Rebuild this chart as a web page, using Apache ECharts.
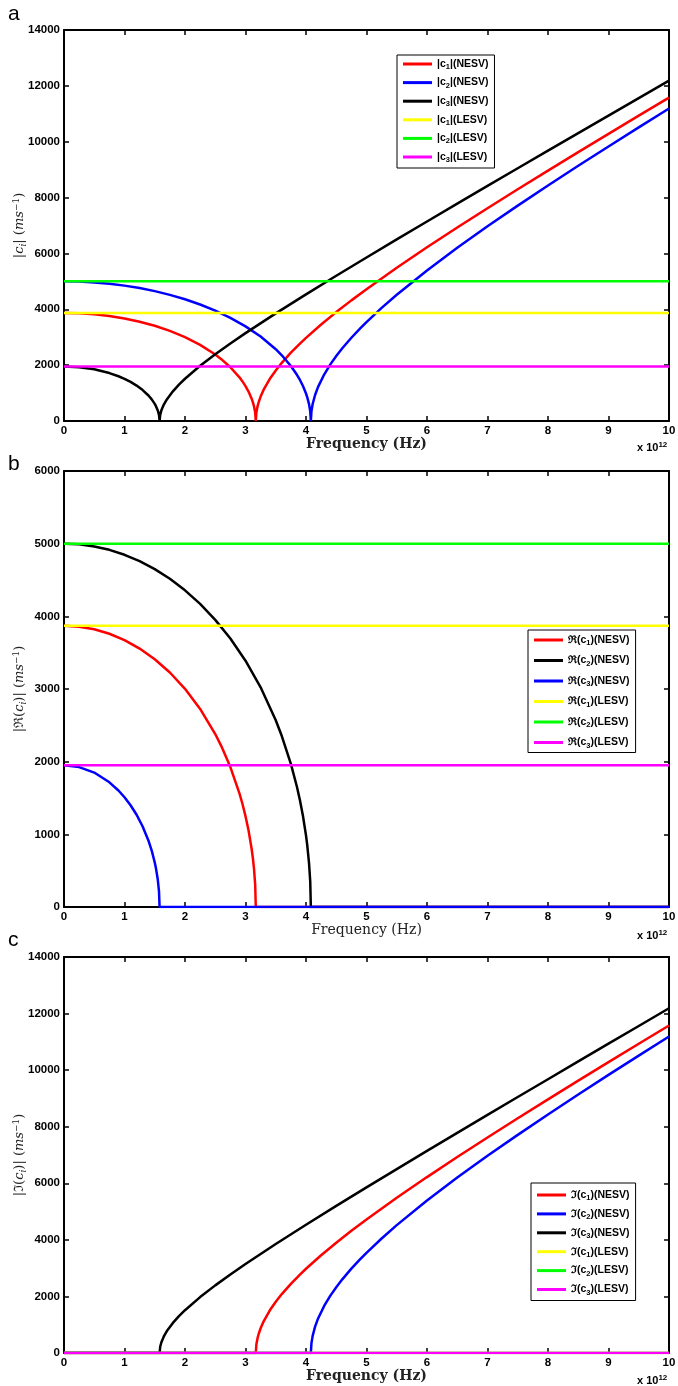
<!DOCTYPE html>
<html><head><meta charset="utf-8">
<script src="https://cdn.jsdelivr.net/npm/echarts@6/dist/echarts.min.js"></script>
<style>html,body{margin:0;padding:0;background:#fff}#c{width:678px;height:1386px}</style>
</head><body><div id="c"></div>
<script>
// Frequency in units of 1e12 Hz; speeds in m/s
const xTicksMax = 10;
const lesvValues = [3870, 5000, 1950];

const c1Re = [[0,3870],[0.25,3858],[0.5,3822],[0.75,3760],[1,3672],[1.25,3556],[1.5,3409],[1.75,3227],[2,3003],[2.25,2726],[2.5,2380],[2.6,2214],[2.75,1925],[2.9,1563],[2.95,1417],[3,1250],[3.05,1055],[3.1,809],[3.12,685],[3.14,531],[3.16,307],[3.17,0]];
const c1Im = [[3.17,0],[3.18,308],[3.2,534],[3.22,690],[3.25,875],[3.3,1120],[3.4,1501],[3.5,1811],[3.6,2083],[3.75,2446],[3.9,2773],[4,2978],[4.25,3456],[4.5,3899],[4.75,4319],[5,4721],[5.5,5487],[6,6219],[6.5,6928],[7,7619],[7.5,8298],[8,8967],[8.5,9628],[9,10283],[9.5,10933],[10,11579]];
const c2Re = [[0,5000],[0.25,4991],[0.5,4962],[0.75,4915],[1,4847],[1.25,4760],[1.5,4650],[1.75,4517],[2,4358],[2.25,4171],[2.5,3951],[2.75,3694],[3,3389],[3.25,3023],[3.5,2570],[3.6,2353],[3.75,1970],[3.85,1655],[3.9,1469],[3.95,1252],[4,985],[4.02,854],[4.05,605],[4.07,350],[4.08,0]];
const c2Im = [[4.08,0],[4.09,350],[4.11,607],[4.15,930],[4.2,1222],[4.3,1664],[4.4,2019],[4.5,2326],[4.6,2604],[4.75,2981],[4.9,3325],[5,3542],[5.25,4049],[5.5,4520],[6,5391],[6.5,6201],[7,6971],[7.5,7712],[8,8433],[8.5,9138],[9,9831],[9.5,10514],[10,11189]];
const c3Re = [[0,1950],[0.25,1925],[0.5,1850],[0.75,1716],[0.9,1603],[1,1510],[1.1,1400],[1.2,1269],[1.3,1108],[1.4,904],[1.45,775],[1.5,613],[1.52,532],[1.55,378],[1.57,219],[1.58,0]];
const c3Im = [[1.58,0],[1.59,220],[1.61,382],[1.65,587],[1.7,774],[1.8,1064],[1.9,1302],[2,1513],[2.25,1977],[2.5,2391],[2.75,2778],[3,3147],[3.5,3854],[4,4535],[4.5,5200],[5,5855],[5.5,6502],[6,7144],[6.5,7782],[7,8416],[7.5,9049],[8,9679],[8.5,10308],[9,10935],[9.5,11561],[10,12187]];

const namesA = ['|c1|(NESV)','|c2|(NESV)','|c3|(NESV)','|c1|(LESV)','|c2|(LESV)','|c3|(LESV)'];
const namesB = ['ℜ(c1)(NESV)','ℜ(c2)(NESV)','ℜ(c3)(NESV)','ℜ(c1)(LESV)','ℜ(c2)(LESV)','ℜ(c3)(LESV)'];
const namesC = ['ℑ(c1)(NESV)','ℑ(c2)(NESV)','ℑ(c3)(NESV)','ℑ(c1)(LESV)','ℑ(c2)(LESV)','ℑ(c3)(LESV)'];
const colorsA = ['#ff0000','#0000ff','#000000','#ffff00','#00ff00','#ff00ff'];
const colorsB = ['#ff0000','#000000','#0000ff','#ffff00','#00ff00','#ff00ff'];
const colorsC = ['#ff0000','#0000ff','#000000','#ffff00','#00ff00','#ff00ff'];

const grids = [
  {left:64, top:30, width:605, height:391, containLabel:false, outerBoundsMode:'none'},
  {left:64, top:471, width:605, height:436, containLabel:false, outerBoundsMode:'none'},
  {left:64, top:957, width:605, height:396, containLabel:false, outerBoundsMode:'none'}
];
const yMax = [14000, 6000, 14000];
const yInt = [2000, 1000, 2000];

const tickFont = {fontFamily:'Liberation Sans, Arial', fontWeight:'bold', fontSize:11.5, color:'#000'};
const axLine = {show:true, onZero:false, lineStyle:{color:'#000', width:2}};
const axTick = {show:true, inside:true, length:5, lineStyle:{color:'#000', width:1.5}};

const serif = 'DejaVu Serif';
const nameRich = {
  n:{fontFamily:serif, fontSize:13, color:'#222', lineHeight:16},
  i:{fontFamily:serif, fontStyle:'italic', fontSize:13, color:'#222', lineHeight:16},
  sub:{fontFamily:serif, fontStyle:'italic', fontSize:9, color:'#222', lineHeight:9, verticalAlign:'bottom'},
  sup:{fontFamily:serif, fontSize:9, color:'#222', lineHeight:9, verticalAlign:'top'}
};
const yNames = [
  '{n||}{i|c}{sub|i}{n|| (}{i|ms}{sup|−1}{n|)}',
  '{n||ℜ(}{i|c}{sub|i}{n|)| (}{i|ms}{sup|−1}{n|)}',
  '{n||ℑ(}{i|c}{sub|i}{n|)| (}{i|ms}{sup|−1}{n|)}'
];
const plain = v => String(v);

const xAxes = [], yAxes = [];
grids.forEach((g, k) => {
  xAxes.push({type:'value', gridIndex:k, min:0, max:xTicksMax, interval:1, position:'bottom',
    axisLine:axLine, axisTick:axTick, splitLine:{show:false},
    axisLabel:Object.assign({margin:4, formatter:plain}, tickFont),
    name:'Frequency (Hz)', nameLocation:'middle', nameGap:16, nameMoveOverlap:false,
    nameTextStyle:{fontFamily:serif, fontSize:14, fontWeight: k===1?'normal':'bold', color:'#222'}});
  xAxes.push({type:'value', gridIndex:k, min:0, max:xTicksMax, interval:1, position:'top',
    axisLine:axLine, axisTick:axTick, splitLine:{show:false}, axisLabel:{show:false}});
  yAxes.push({type:'value', gridIndex:k, min:0, max:yMax[k], interval:yInt[k], position:'left',
    axisLine:axLine, axisTick:axTick, splitLine:{show:false},
    axisLabel:Object.assign({margin:4, formatter:plain}, tickFont),
    name:yNames[k], nameLocation:'middle', nameRotate:90, nameGap:36, nameMoveOverlap:false,
    nameTextStyle:{rich:nameRich}});
  yAxes.push({type:'value', gridIndex:k, min:0, max:yMax[k], interval:yInt[k], position:'right',
    axisLine:axLine, axisTick:axTick, splitLine:{show:false}, axisLabel:{show:false}});
});

function line(name, color, data, k) {
  return {type:'line', name, data, xAxisIndex:2*k, yAxisIndex:2*k, showSymbol:false, symbol:'none',
    lineStyle:{color, width:2.5}, itemStyle:{color}, animation:false};
}
function flat(v) { return [[0, v], [xTicksMax, v]]; }

const series = [];
// Panel a: |c_i|
series.push(line(namesA[0], colorsA[0], c1Re.concat(c1Im), 0));
series.push(line(namesA[1], colorsA[1], c2Re.concat(c2Im), 0));
series.push(line(namesA[2], colorsA[2], c3Re.concat(c3Im), 0));
lesvValues.forEach((v, i) => series.push(line(namesA[3+i], colorsA[3+i], flat(v), 0)));
// Panel b: Re(c_i)
series.push(line(namesB[0], colorsB[0], c1Re.concat([[xTicksMax,0]]), 1));
series.push(line(namesB[1], colorsB[1], c2Re.concat([[xTicksMax,0]]), 1));
series.push(line(namesB[2], colorsB[2], c3Re.concat([[xTicksMax,0]]), 1));
lesvValues.forEach((v, i) => series.push(line(namesB[3+i], colorsB[3+i], flat(v), 1)));
// Panel c: Im(c_i)
series.push(line(namesC[0], colorsC[0], [[0,0]].concat(c1Im), 2));
series.push(line(namesC[1], colorsC[1], [[0,0]].concat(c2Im), 2));
series.push(line(namesC[2], colorsC[2], [[0,0]].concat(c3Im), 2));
lesvValues.forEach((v, i) => series.push(line(namesC[3+i], colorsC[3+i], flat(0), 2)));

const legRich = {
  t:{fontFamily:'Liberation Sans, Arial', fontWeight:'bold', fontSize:10.5, color:'#000', lineHeight:14},
  s:{fontFamily:'Liberation Sans, Arial', fontWeight:'bold', fontSize:7.5, color:'#000', lineHeight:8, verticalAlign:'bottom'}
};
function legFmt(name) {
  const m = name.match(/^(.*c)(\d)(.*)$/);
  return '{t|' + m[1] + '}{s|' + m[2] + '}{t|' + m[3] + '}';
}
function legend(data, left, top, gap, pad) {
  return {data, left, top, orient:'vertical', icon:'rect', itemWidth:29, itemHeight:3, itemGap:gap,
    padding:pad, borderColor:'#000', borderWidth:1, backgroundColor:'#fff', borderRadius:0,
    formatter:legFmt, textStyle:{rich:legRich, lineHeight:14}, selectedMode:false};
}

const supRich = {
  a:{fontFamily:'Liberation Sans, Arial', fontWeight:'bold', fontSize:11, fill:'#000', lineHeight:14},
  b:{fontFamily:'Liberation Sans, Arial', fontWeight:'bold', fontSize:8, fill:'#000', lineHeight:8, verticalAlign:'top'}
};
function xExp(x, y) {
  return {type:'text', left:x, top:y, style:{text:'{a|x 10}{b|12}', rich:supRich}};
}
function panelLetter(t, x, y) {
  return {type:'text', left:x, top:y, style:{text:t, font:'21px "Liberation Sans", Arial', fill:'#000'}};
}

const option = {
  animation:false,
  backgroundColor:'#fff',
  grid:grids,
  xAxis:xAxes,
  yAxis:yAxes,
  legend:[
    legend(namesA, 397, 55, 4.6, [2,6,4,6]),
    legend(namesB, 528, 630, 6.5, [3,6,3,6]),
    legend(namesC, 531, 1183, 4.9, [5,6,4,6])
  ],
  series,
  graphic:[
    panelLetter('a', 8, 4), panelLetter('b', 8, 454), panelLetter('c', 8, 930),
    xExp(637, 441), xExp(637, 929), xExp(637, 1374)
  ]
};
const chart = echarts.init(document.getElementById('c'), null, {renderer:'canvas'});
chart.setOption(option);
</script></body></html>
